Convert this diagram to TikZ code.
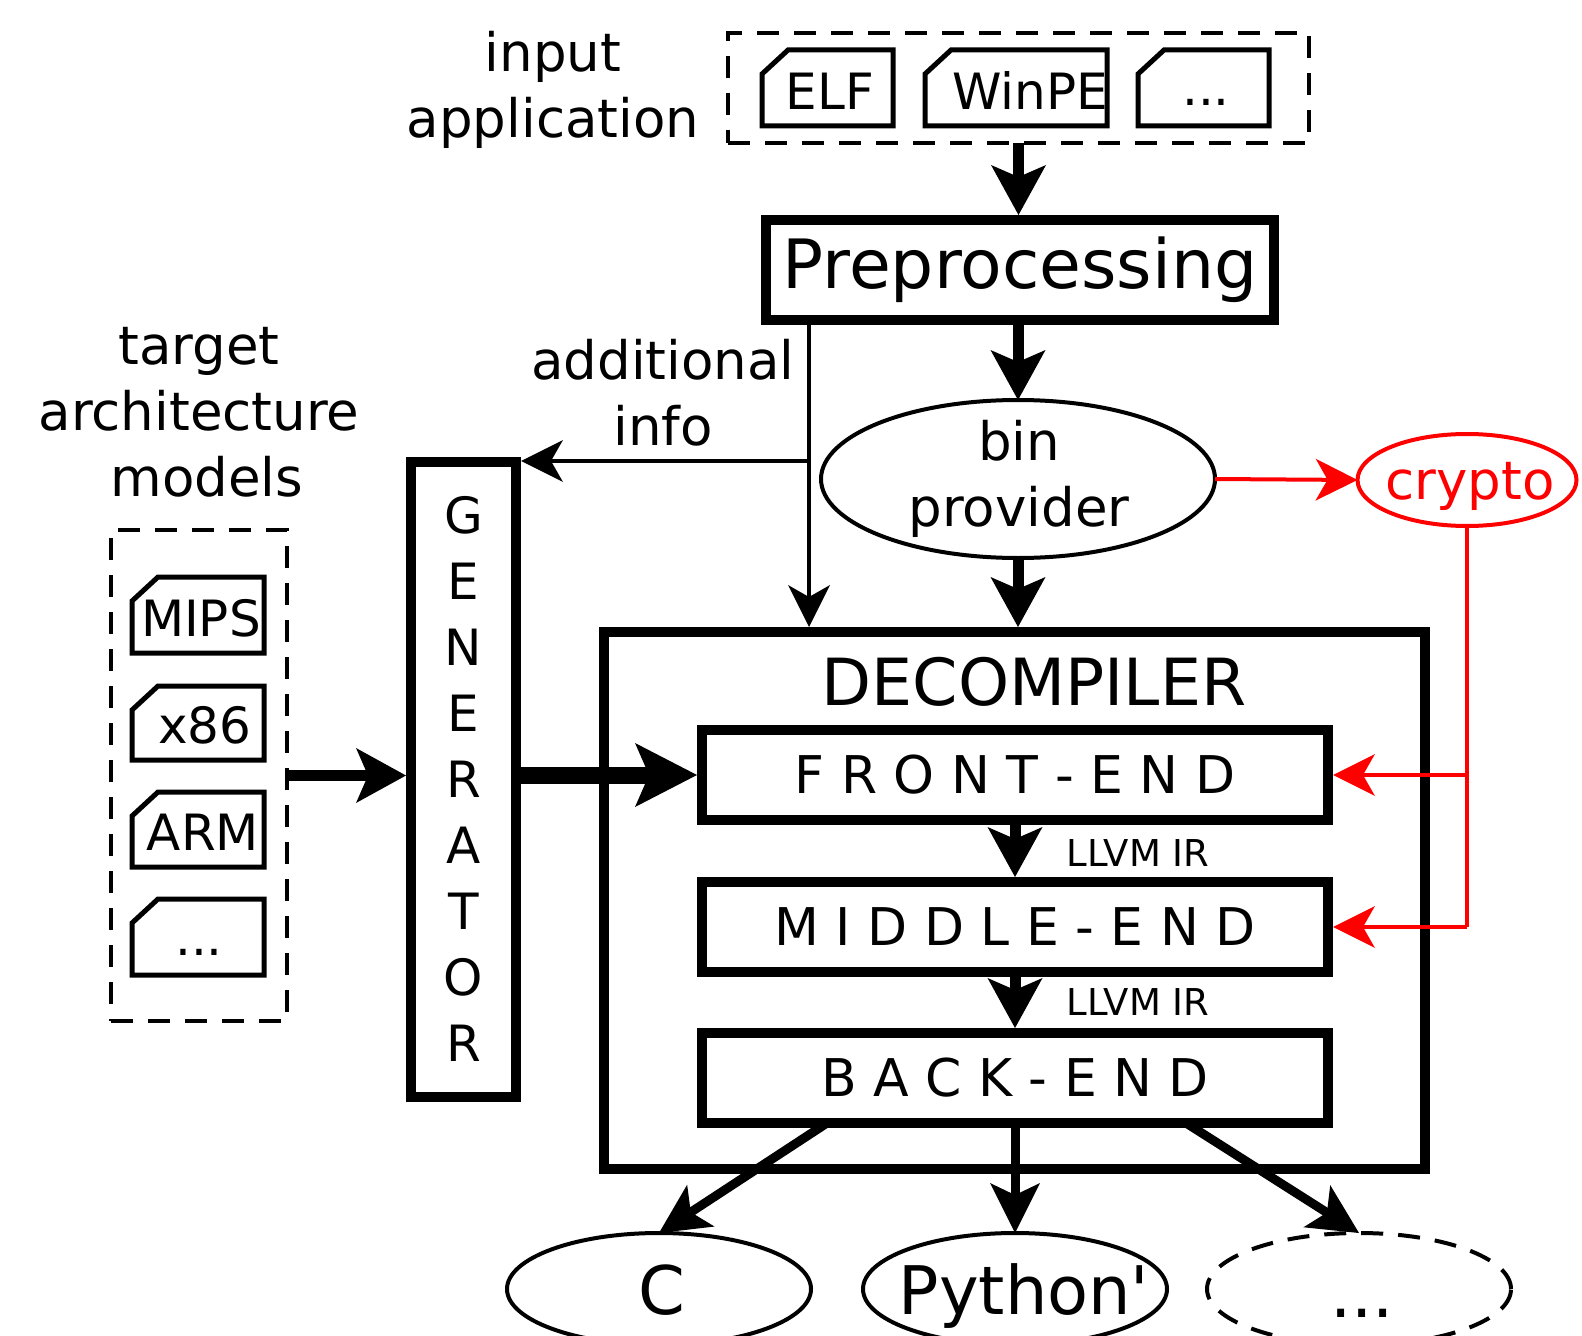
\documentclass[tikz,border=0pt]{standalone}
\usepackage{fontspec}
\setmainfont{DejaVu Sans}[Ligatures=TeXOff]
\usetikzlibrary{arrows.meta,shapes.geometric}
\newcommand{\tabbox}[4]{\draw[tabline] (#1,#3+24) -- (#1+26,#3) -- (#2,#3) -- (#2,#4) -- (#1,#4) -- cycle;}
\begin{document}
\begin{tikzpicture}[x=0.5pt,y=-0.5pt,
  every node/.style={inner sep=0pt, outer sep=0pt},
  txt/.style={font=\fontsize{26.5pt}{33pt}\selectfont, align=center},
  tabtxt/.style={font=\fontsize{25pt}{30pt}\selectfont},
  stage/.style={draw, line width=5pt, minimum width=313pt, minimum height=45pt, font=\fontsize{26pt}{30pt}\selectfont},
  bigbox/.style={draw, line width=5pt},
  dashbox/.style={draw, line width=2pt, dash pattern=on 11pt off 7.5pt},
  tabline/.style={line width=2.5pt, line join=miter},
  thickarrow/.style={line width=5.5pt, -{Stealth[length=25pt, width=27.5pt, inset=6pt, line width=0pt]}},
  outarrow/.style={line width=4.5pt, -{Stealth[length=25pt, width=25pt, inset=6pt, line width=0pt]}},
  thinarrow/.style={line width=1.75pt, -{Stealth[length=21pt, width=21pt, inset=6pt, line width=0pt]}},
  redarrow/.style={red, line width=2pt, -{Stealth[length=21pt, width=21pt, inset=6pt, line width=0pt]}},
  ell/.style={draw, ellipse, line width=2pt},
]
\clip (0,0) rectangle (1582,1336);

% input application
\node[txt] (inlabel) at (553,90) {input\\application};
\node[dashbox, minimum width=290.5pt, minimum height=55pt] (inbox) at (1018.5,88) {};
\tabbox{762}{893}{50}{126}
\tabbox{925}{1107}{50}{126}
\tabbox{1138}{1269}{50}{126}
\node[tabtxt] (elf) at (830,91) {ELF};
\node[tabtxt, anchor=west] (winpe) at (952,91) {WinPE};
\node[tabtxt, anchor=base] (indots) at (1206,106) {...};

% preprocessing
\node[bigbox, minimum width=254pt, minimum height=50pt, font=\fontsize{34pt}{40pt}\selectfont] (prep) at (1020,270) {Preprocessing};

% bin provider and crypto
\node[ell, minimum width=197pt, minimum height=79pt] (bin) at (1018,479) {};
\node[txt] (bintext) at (1019,479) {bin\\provider};
\node[ell, draw=red, minimum width=109.5pt, minimum height=46pt] (crypto) at (1467,480) {};
\node[txt, text=red] (cryptotext) at (1470,486) {crypto};

% additional info
\node[txt] (ailabel) at (663,393) {additional\\info};
\coordinate (aitop) at (809,318);
\coordinate (aibranch) at (809,461);

% target architecture models
\node[txt] (modlabel) at (199,412) {target\\architecture\\\hspace*{8pt}models};
\node[dashbox, minimum width=88pt, minimum height=245.5pt] (models) at (199,775.5) {};
\tabbox{132}{264}{577}{653}
\tabbox{132}{264}{686}{760}
\tabbox{132}{264}{792}{867}
\tabbox{132}{264}{899}{975}
\node[tabtxt, anchor=west] (mips) at (141,618) {MIPS};
\node[tabtxt] (x86) at (205,725) {x86};
\node[tabtxt] (arm) at (203,832) {ARM};
\node[tabtxt, anchor=base] (moddots) at (199,955) {...};

% generator
\node[bigbox, minimum width=52.5pt, minimum height=317.5pt, align=center, font=\fontsize{25pt}{33pt}\selectfont] (gen) at (463.5,779) {G\\E\\N\\E\\R\\A\\T\\O\\R};

% decompiler
\node[bigbox, minimum width=410.5pt, minimum height=268.5pt] (dec) at (1014.5,900.5) {};
\node[font=\fontsize{32.5pt}{40pt}\selectfont] (dectitle) at (1034,682) {DECOMPILER};
\node[stage] (front) at (1015,775) {F R O N T - E N D};
\node[stage] (middle) at (1015,927) {M I D D L E - E N D};
\node[stage] (back) at (1015,1078) {B A C K - E N D};
\node[font=\fontsize{18.5pt}{22pt}\selectfont] (ir1) at (1138,853) {LLVM IR};
\node[font=\fontsize{18.5pt}{22pt}\selectfont] (ir2) at (1138,1002) {LLVM IR};

% outputs
\node[ell, minimum width=152pt, minimum height=56pt] (c) at (659,1289) {};
\node[ell, minimum width=152pt, minimum height=56pt] (py) at (1015,1289) {};
\node[ell, dash pattern=on 11pt off 7.5pt, minimum width=152pt, minimum height=56pt] (etc) at (1359,1289) {};
\node[font=\fontsize{33.5pt}{40pt}\selectfont, anchor=base] (ctext) at (662,1314) {C};
\node[font=\fontsize{33.5pt}{40pt}\selectfont, anchor=base] (pytext) at (1024,1314) {Python'};
\node[font=\fontsize{33.5pt}{40pt}\selectfont, anchor=base] (etctext) at (1362,1317) {...};
\coordinate (bl) at (827,1123);
\coordinate (br) at (1186,1123);

% connectors
\draw[thickarrow] (inbox.south) -- ([yshift=2.5pt]inbox.south |- prep.north);
\draw[thickarrow] (prep.south -| bin.north) -- (bin.north);
\draw[thickarrow] (bin.south) -- ([yshift=2.5pt]bin.south |- dec.north);
\draw[thinarrow] (aitop) -- ([yshift=2.5pt]aitop |- dec.north);
\draw[thinarrow] (aibranch) -- ([xshift=2.5pt]aibranch -| gen.east);
\draw[line width=5.5pt, -{Stealth[length=25pt, width=27.5pt, inset=6pt, line width=0pt]}] (models.east) -- ([xshift=-2.5pt]models.east -| gen.west);
\draw[line width=8.5pt, -{Stealth[length=31pt, width=32pt, inset=7pt, line width=0pt]}] ([xshift=2.5pt]gen.east |- front.west) -- ([xshift=-2.5pt]front.west);
\draw[redarrow] (bin.east) -- (crypto.west);
\draw[red, line width=2pt] (crypto.south) -- (crypto.south |- middle.east);
\draw[redarrow] (crypto.south |- front.east) -- ([xshift=2.5pt]front.east);
\draw[redarrow] (crypto.south |- middle.east) -- ([xshift=2.5pt]middle.east);
\draw[thickarrow] (front.south) -- ([yshift=2.5pt]middle.north);
\draw[thickarrow] (middle.south) -- ([yshift=2.5pt]back.north);
\draw[outarrow] (bl) -- (c.north);
\draw[outarrow] (back.south) -- (py.north);
\draw[outarrow] (br) -- (etc.north);
\end{tikzpicture}
\end{document}
